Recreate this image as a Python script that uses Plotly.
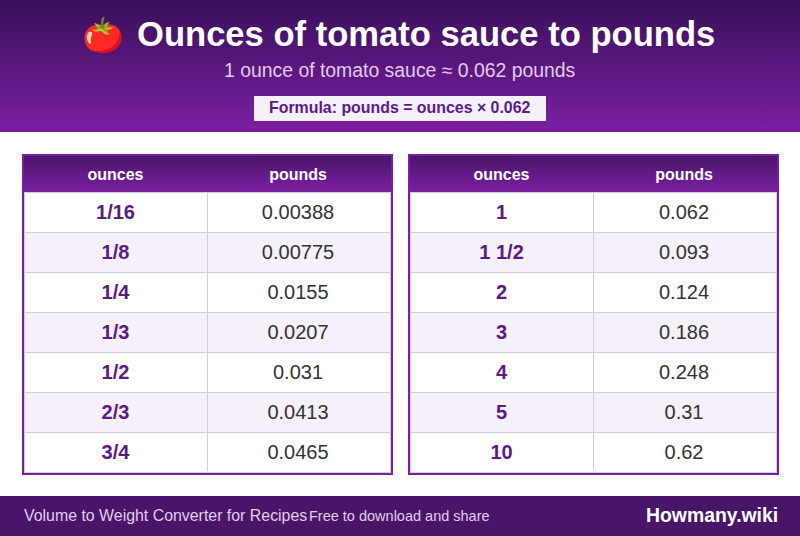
import plotly.graph_objects as graph

# table contents
left_ounces = ["1/16", "1/8", "1/4", "1/3", "1/2", "2/3", "3/4"]
left_pounds = ["0.00388", "0.00775", "0.0155", "0.0207", "0.031", "0.0413", "0.0465"]
right_ounces = ["1", "1 1/2", "2", "3", "4", "5", "10"]
right_pounds = ["0.062", "0.093", "0.124", "0.186", "0.248", "0.31", "0.62"]
column_names = ["ounces", "pounds"]

WIDTH = 800
HEIGHT = 536
FONT = "Liberation Sans"
DARK = "#4a1569"
PURPLE = "#7b1fa2"
TEXT_PURPLE = "#5b1a86"
ROW_TINT = "#f5f0fa"
GRID = "#d9c7e8"
CLEAR = "rgba(0,0,0,0)"
TEXT_DROP = 4       # table text is top anchored, the reference centres it in the row


def addGradient(fig, x0, x1, y0, y1, top, bottom):
    """ Filled rectangle with a vertical gradient, drawn on the pixel axes """
    fig.add_trace(graph.Scatter(
        x=[x0, x1, x1, x0, x0], y=[y0, y0, y1, y1, y0],
        mode="none", fill="toself", hoverinfo="skip", showlegend=False,
        fillgradient=dict(type="vertical", colorscale=[[0, bottom], [1, top]]),
    ))


def tableDomain(left, width, top, bottom):
    return dict(x=[left / WIDTH, (left + width) / WIDTH], y=[1 - bottom / HEIGHT, 1 - top / HEIGHT])


def addTable(fig, left, ounces, pounds):
    rows = len(ounces)
    fills = [["white" if i % 2 == 0 else ROW_TINT for i in range(rows)]] * 2
    blanks = [""] * rows

    # backing table: row fills and grid lines only
    fig.add_trace(graph.Table(
        domain=tableDomain(left, 367, 156, 472),
        columnwidth=[183, 184],
        header=dict(values=["", ""], height=36, fill_color=CLEAR, line_color=CLEAR),
        cells=dict(values=[blanks, blanks], height=40, fill_color=fills, line=dict(color=GRID, width=1)),
    ))
    # text table on top, moved down so the text sits in the middle of each row
    fig.add_trace(graph.Table(
        domain=tableDomain(left, 365, 156 + TEXT_DROP, 472 + TEXT_DROP),
        columnwidth=[183, 182],
        header=dict(values=column_names, height=36, align="center",
                    fill_color=CLEAR, line_color=CLEAR,
                    font=dict(family=FONT, size=16, color="white", weight=700)),
        cells=dict(values=[ounces, pounds], height=40, align="center",
                   fill_color=CLEAR, line_color=CLEAR,
                   font=dict(family=FONT, size=20, color=[TEXT_PURPLE, "#333333"], weight=[700, 400])),
    ))
    # light line just inside the border, then the border itself
    fig.add_shape(type="rect", xref="x", yref="y", x0=left + 0.5, x1=left + 366.5, y0=192.5, y1=472.5,
                  line=dict(color=GRID, width=1), layer="above")
    fig.add_shape(type="rect", xref="x", yref="y", x0=left - 1, x1=left + 368, y0=155, y1=474,
                  line=dict(color=PURPLE, width=2), layer="above")


def addText(fig, text, x, y, size, color, anchor="center", bold=False):
    fig.add_annotation(text=f"<b>{text}</b>" if bold else text, x=x, y=y, xref="x", yref="y",
                       showarrow=False, xanchor=anchor, yanchor="middle",
                       font=dict(family=FONT, size=size, color=color))


fig = graph.Figure()

addGradient(fig, 0, WIDTH, 0, 132, "#38105a", PURPLE)
addGradient(fig, 24, 391, 156, 192, DARK, PURPLE)
addGradient(fig, 410, 777, 156, 192, DARK, PURPLE)

addTable(fig, 24, left_ounces, left_pounds)
addTable(fig, 410, right_ounces, right_pounds)

fig.add_shape(type="rect", xref="x", yref="y", x0=254, x1=546, y0=96, y1=121,
              fillcolor=ROW_TINT, line_width=0, layer="above")
fig.add_shape(type="rect", xref="x", yref="y", x0=0, x1=WIDTH, y0=496, y1=536,
              fillcolor="#4a1569", line_width=0, layer="above")

addText(fig, "🍅", 103, 36, 34, "white")
addText(fig, "Ounces of tomato sauce to pounds", 135, 34, 34.6, "white", "left", True)
addText(fig, "1 ounce of tomato sauce ≈ 0.062 pounds", 399, 70, 19.4, "#e1cdee")
addText(fig, "Formula: pounds = ounces × 0.062", 400, 107.5, 15.9, TEXT_PURPLE, bold=True)
addText(fig, "Volume to Weight Converter for Recipes", 22, 515, 15.9, "#e1cdee", "left")
addText(fig, "Free to download and share", 307, 516, 14.5, "#e1cdee", "left")
addText(fig, "Howmany.wiki", 780, 515, 19.4, "white", "right", True)

fig.update_layout(
    width=WIDTH, height=HEIGHT, margin=dict(l=0, r=0, t=0, b=0),
    paper_bgcolor="white", plot_bgcolor="white", showlegend=False,
    xaxis=dict(range=[0, WIDTH], visible=False, fixedrange=True),
    yaxis=dict(range=[HEIGHT, 0], visible=False, fixedrange=True),
)

# the page's default body margin would push the figure off by 8px
fig.write_html("out.html", config=dict(displayModeBar=False),
               post_script="document.body.style.margin = '0'; document.body.style.overflow = 'hidden';")
